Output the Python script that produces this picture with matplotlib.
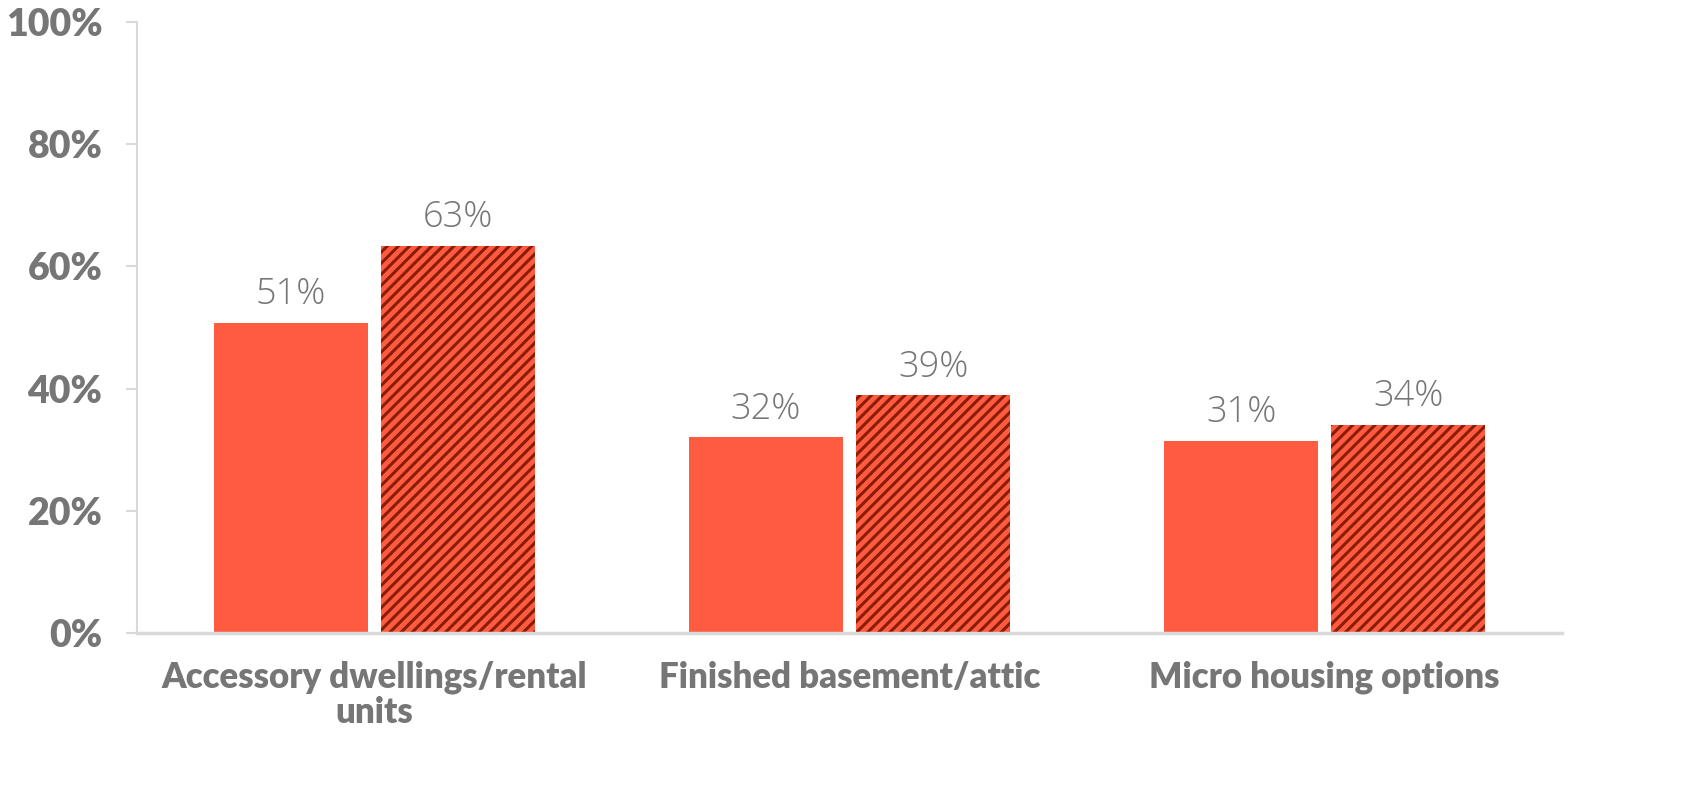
import numpy as np
import matplotlib
matplotlib.use("Agg")
import matplotlib.pyplot as plt

categories = ["Accessory dwellings/rental\nunits", "Finished basement/attic", "Micro housing options"]
solid_values = [50.7, 32.0, 31.5]
hatched_values = [63.4, 38.9, 34.1]
solid_labels = ["51%", "32%", "31%"]
hatched_labels = ["63%", "39%", "34%"]
y_ticks = [0, 20, 40, 60, 80, 100]

bar_color = "#FF5B41"
hatch_color = "#8A1C05"
text_gray = "#767676"
axis_gray = "#D9D9D9"

plt.rcParams["font.family"] = ["Lato", "DejaVu Sans"]
plt.rcParams["hatch.color"] = hatch_color
plt.rcParams["hatch.linewidth"] = 2.2

fig = plt.figure(figsize=(16.94, 7.91), dpi=100)
ax = fig.add_axes([0.0809, 0.1998, 0.8413, 0.7724])

x = np.arange(len(categories))
width = 0.324
offset = 0.176

ax.bar(x - offset, solid_values, width, color=bar_color, linewidth=0)
ax.bar(x + offset, hatched_values, width, color=bar_color, hatch="///",
       edgecolor=hatch_color, linewidth=0)

# value labels above each bar
label_font = dict(family=["Open Sans", "DejaVu Sans"], fontweight="light", fontsize=26, color=text_gray)
for xi, v, lab in zip(x - offset, solid_values, solid_labels):
    ax.text(xi, v + 1.6, lab, ha="center", va="bottom", **label_font)
for xi, v, lab in zip(x + offset, hatched_values, hatched_labels):
    ax.text(xi, v + 1.6, lab, ha="center", va="bottom", **label_font)

ax.set_xlim(-0.5, 2.5)
ax.set_ylim(0, 100)
ax.set_yticks(y_ticks)
ax.set_yticklabels([f"{t}%" for t in y_ticks], fontsize=27, fontweight="heavy", color=text_gray)
ax.set_xticks(x)
ax.set_xticklabels(categories, fontsize=25, fontweight="heavy", color=text_gray, linespacing=1.05)

ax.tick_params(axis="x", length=0, pad=20)
ax.tick_params(axis="y", length=8, width=1.5, color=axis_gray, pad=17)

for side in ["top", "right"]:
    ax.spines[side].set_visible(False)
ax.spines["left"].set_color(axis_gray)
ax.spines["left"].set_linewidth(1.5)
ax.spines["bottom"].set_color(axis_gray)
ax.spines["bottom"].set_linewidth(2.5)

fig.savefig("out.png", dpi=100)
